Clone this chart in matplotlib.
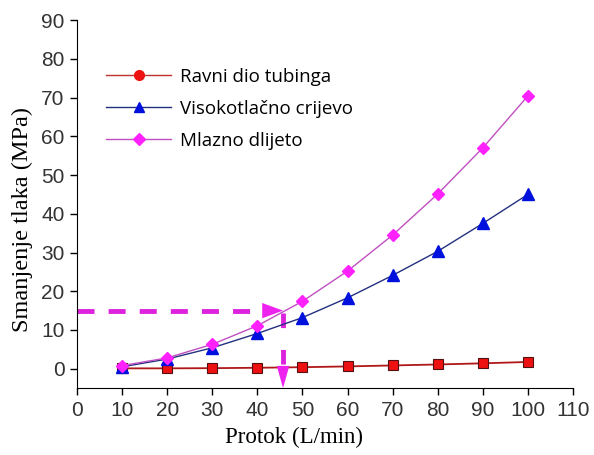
import matplotlib
matplotlib.use("Agg")
import matplotlib.pyplot as plt
from matplotlib.lines import Line2D

flow = [10, 20, 30, 40, 50, 60, 70, 80, 90, 100]
ravni = [0.1, 0.1, 0.15, 0.25, 0.4, 0.6, 0.85, 1.1, 1.4, 1.75]
visoko = [0.5, 2.5, 5.4, 9.1, 13.2, 18.3, 24.1, 30.3, 37.5, 45.0]
mlazno = [0.8, 2.8, 6.3, 11.1, 17.4, 25.2, 34.5, 45.1, 57.0, 70.4]
labels = ["Ravni dio tubinga", "Visokotlačno crijevo", "Mlazno dlijeto"]
xticks = [0, 10, 20, 30, 40, 50, 60, 70, 80, 90, 100, 110]
yticks = [0, 10, 20, 30, 40, 50, 60, 70, 80, 90]
target_p = 15
target_q = 45.7

fig = plt.figure(figsize=(5.94, 4.55), dpi=100)
ax = fig.add_axes([0.1296, 0.147, 0.835, 0.809])

ax.plot(flow, ravni, color="#b01818", lw=1.3, marker="s", ms=7,
        mfc="#ee1111", mec="#551111", mew=0.8, zorder=3)
ax.plot(flow, visoko, color="#23307f", lw=1.0, marker="^", ms=8,
        mfc="#0010dd", mec="#0010dd", zorder=3)
ax.plot(flow, mlazno, color="#c050c0", lw=1.0, marker="D", ms=6.5,
        mfc="#ff22ff", mec="#ff22ff", zorder=3)

# dashed guide arrows
mag = "#dd22dd"
ax.plot([0, target_q - 4.6], [target_p, target_p], ls=(0, (3.5, 2.9)),
        color=mag, lw=3.5, zorder=2, clip_on=False, solid_capstyle="butt")
ax.annotate("", xy=(target_q, target_p), xytext=(target_q - 4.8, target_p),
            arrowprops=dict(arrowstyle="-|>,head_length=1.5,head_width=0.55",
                            color="#ee22ee", lw=0, shrinkA=0, shrinkB=0))
ax.plot([target_q, target_q], [target_p - 0.5, -0.5], ls=(0, (3.0, 4.5)),
        color=mag, lw=3.5, zorder=2)
ax.annotate("", xy=(target_q, -5.0), xytext=(target_q, -0.3),
            arrowprops=dict(arrowstyle="-|>,head_length=1.6,head_width=0.45",
                            color="#ee22ee", lw=0, shrinkA=0, shrinkB=0),
            annotation_clip=False)

ax.set_xlim(0, 110)
ax.set_ylim(-5, 90)
ax.set_xticks(xticks)
ax.set_yticks(yticks)
ax.spines["top"].set_visible(False)
ax.spines["right"].set_visible(False)
ax.spines["left"].set_bounds(-5, 90)
ax.tick_params(direction="out", length=5, width=1, labelsize=15, pad=4)
for lab in ax.get_xticklabels() + ax.get_yticklabels():
    lab.set_fontfamily("Liberation Sans")
    lab.set_color("#333333")

ax.set_xlabel("Protok (L/min)", fontfamily="Liberation Serif", fontsize=16.5)
ax.set_ylabel("Smanjenje tlaka (MPa)", fontfamily="Liberation Serif", fontsize=17.5)
ax.xaxis.set_label_coords(0.4375, -0.104)
ax.yaxis.set_label_coords(-0.089, 0.459)

handles = [
    Line2D([], [], color="#c03030", lw=1.0, marker="o", ms=7, mfc="#ee1111", mec="#ee1111"),
    Line2D([], [], color="#23307f", lw=1.0, marker="^", ms=7, mfc="#0010dd", mec="#0010dd"),
    Line2D([], [], color="#c050c0", lw=1.0, marker="D", ms=6, mfc="#ff22ff", mec="#ff22ff"),
]
leg = ax.legend(handles, labels, loc="upper left", bbox_to_anchor=(0.024, 0.916),
                frameon=False, prop={"family": "Open Sans", "size": 13.5},
                handlelength=3.5, labelspacing=0.75, handletextpad=0.45)

fig.savefig("out.png", dpi=100)
